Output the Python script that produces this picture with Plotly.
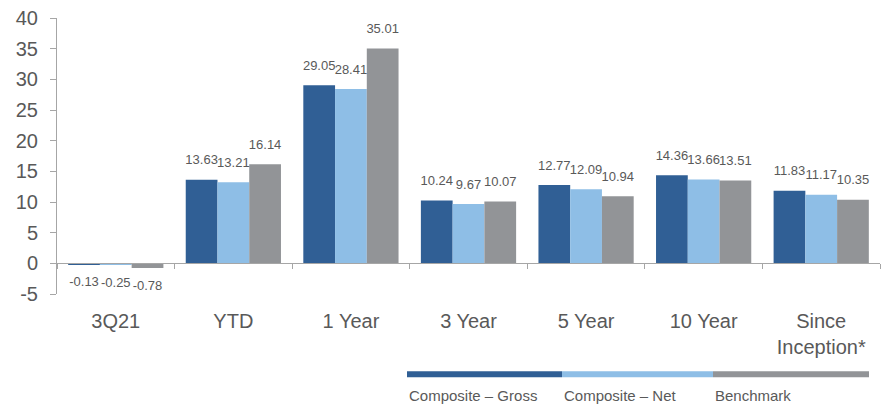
import plotly.graph_objects as go

categories = ["3Q21", "YTD", "1 Year", "3 Year", "5 Year", "10 Year", "Since<br>Inception*"]
series_names = ["Composite – Gross", "Composite – Net", "Benchmark"]
gross = [-0.13, 13.63, 29.05, 10.24, 12.77, 14.36, 11.83]
net = [-0.25, 13.21, 28.41, 9.67, 12.09, 13.66, 11.17]
bench = [-0.78, 16.14, 35.01, 10.07, 10.94, 13.51, 10.35]
colors = ["#305F95", "#8EBEE6", "#929497"]
y_ticks = list(range(-5, 45, 5))
y_ticktext = [str(v) for v in y_ticks]

W, H = 887, 407
L, R, T, B = 57, 7, 15, 113
grey = "#595959"
fig = go.Figure()
for k, (name, vals, c) in enumerate(zip(series_names, [gross, net, bench], colors)):
    fig.add_trace(go.Bar(
        x=categories, y=vals, name=name, marker=dict(color=c, line=dict(width=0)),
        offsetgroup=f"g{k}", showlegend=False, hoverinfo="skip",
    ))
    fig.add_trace(go.Scatter(
        x=categories, y=vals, mode="markers+text", offsetgroup=f"g{k}",
        marker=dict(size=18, opacity=0),
        text=[f"{v:.2f}" for v in vals],
        textposition=["bottom center" if v < 0 else "top center" for v in vals],
        textfont=dict(size=13, color=grey), cliponaxis=False, showlegend=False,
        hoverinfo="skip",
    ))

fig.update_layout(
    width=W, height=H, margin=dict(l=L, r=R, t=T, b=B),
    paper_bgcolor="white", plot_bgcolor="white",
    font=dict(family="Liberation Sans, Arial, sans-serif", color=grey),
    barmode="group", bargap=0.19, bargroupgap=0,
    scattermode="group", scattergap=0.19,
    yaxis=dict(range=[-5, 40], tickvals=y_ticks, ticktext=y_ticktext, showgrid=False,
               zeroline=False, showline=True, linecolor="#A6A6A6", linewidth=1,
               ticks="outside", ticklen=6, tickcolor="#A6A6A6",
               tickfont=dict(size=20, color=grey), ticklabelstandoff=8),
    xaxis=dict(anchor="free", position=5/45, showline=True, linecolor="#A6A6A6",
               linewidth=1, ticks="outside", tickson="boundaries", ticklen=5,
               tickcolor="#A6A6A6", showgrid=False, tickfont=dict(size=20, color=grey),
               ticklabelstandoff=40),
)

# custom legend
pw = W - L - R
ph = H - T - B
def px(x):
    return (x - L) / pw
def py(y):
    return (H - B - y) / ph
seg = [407, 562, 713, 869]
for i, (name, c) in enumerate(zip(series_names, colors)):
    fig.add_shape(type="line", xref="paper", yref="paper", x0=px(seg[i]), x1=px(seg[i+1]),
                  y0=py(375), y1=py(375), line=dict(color=c, width=6))
    fig.add_annotation(xref="paper", yref="paper", x=px(seg[i]), y=py(397), text=name,
                       showarrow=False, xanchor="left", yanchor="middle",
                       font=dict(size=15, color=grey))

fig.write_html("out.html")
